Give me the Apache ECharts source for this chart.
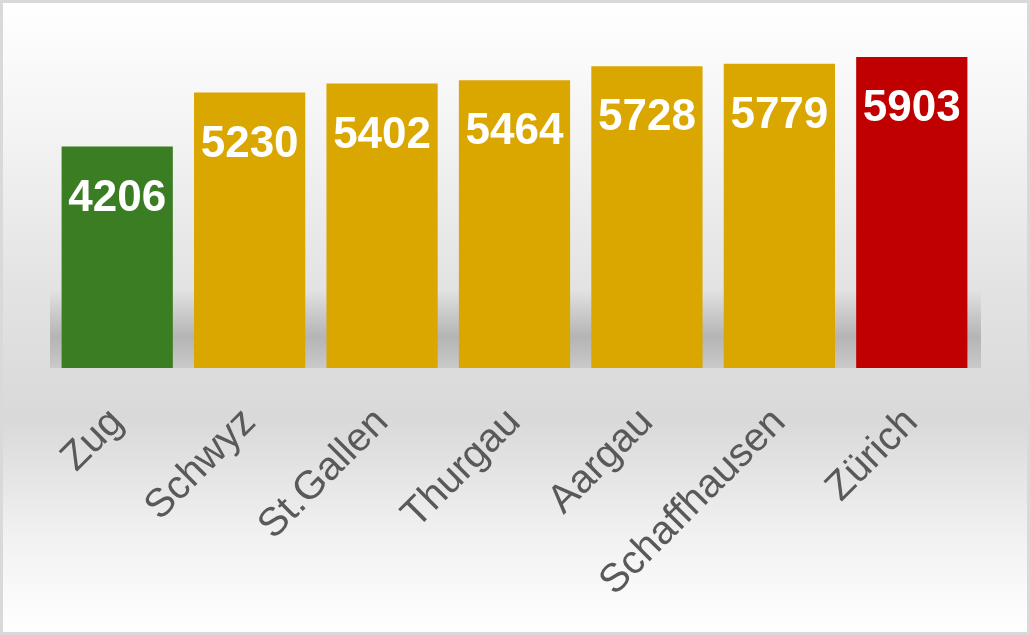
<!DOCTYPE html>
<html>
<head>
<meta charset="utf-8">
<script src="https://cdn.jsdelivr.net/npm/echarts@6/dist/echarts.min.js"></script>
<style>html,body{margin:0;padding:0;background:#fff}#c{width:1030px;height:635px}</style>
</head>
<body>
<div id="c"></div>
<script>
const categories = ['Zug','Schwyz','St.Gallen','Thurgau','Aargau','Schaffhausen','Zürich'];
const values = [4206,5230,5402,5464,5728,5779,5903];
const barColors = ['#3b7d23','#daa600','#daa600','#daa600','#daa600','#daa600','#c00000'];

const chart = echarts.init(document.getElementById('c'), null, {renderer:'canvas'});
chart.setOption({
  animation:false,
  graphic:[
    {type:'rect', z:-10, silent:true, shape:{x:0,y:0,width:1030,height:635},
     style:{fill:new echarts.graphic.LinearGradient(0,0,0,1,[
       {offset:0,color:'#ffffff'},
       {offset:0.2,color:'#f4f4f4'},
       {offset:0.45,color:'#e3e3e3'},
       {offset:0.66,color:'#d9d9d9'},
       {offset:0.85,color:'#f2f2f2'},
       {offset:1,color:'#ffffff'}])}},
    {type:'rect', z:-9, silent:true, shape:{x:50,y:290,width:931,height:78},
     style:{fill:new echarts.graphic.LinearGradient(0,0,0,1,[
       {offset:0,color:'rgba(170,170,170,0)'},
       {offset:0.6,color:'rgba(170,170,170,0.8)'},
       {offset:1,color:'rgba(200,200,200,0.9)'}])}},
    {type:'rect', z:-8, silent:true, shape:{x:1.5,y:1.5,width:1027,height:632},
     style:{fill:'none',stroke:'#d9d9d9',lineWidth:3}}
  ],
  grid:{left:51,right:52,top:52,bottom:267,containLabel:false},
  xAxis:{type:'category',data:categories,
    axisLine:{show:false},axisTick:{show:false},
    axisLabel:{rotate:45,margin:48,color:'#595959',fontSize:40,fontFamily:'Liberation Sans, Arial, sans-serif',interval:0}},
  yAxis:{type:'value',min:0,max:6000,show:false,splitLine:{show:false}},
  series:[{type:'bar',barCategoryGap:'16%',
    data:values.map((v,i)=>({value:v,itemStyle:{color:barColors[i]}})),
    label:{show:true,position:'insideTop',distance:30,color:'#ffffff',fontSize:44,fontWeight:'bold',
      fontFamily:'Liberation Sans, Arial, sans-serif'}}]
});
</script>
</body>
</html>
